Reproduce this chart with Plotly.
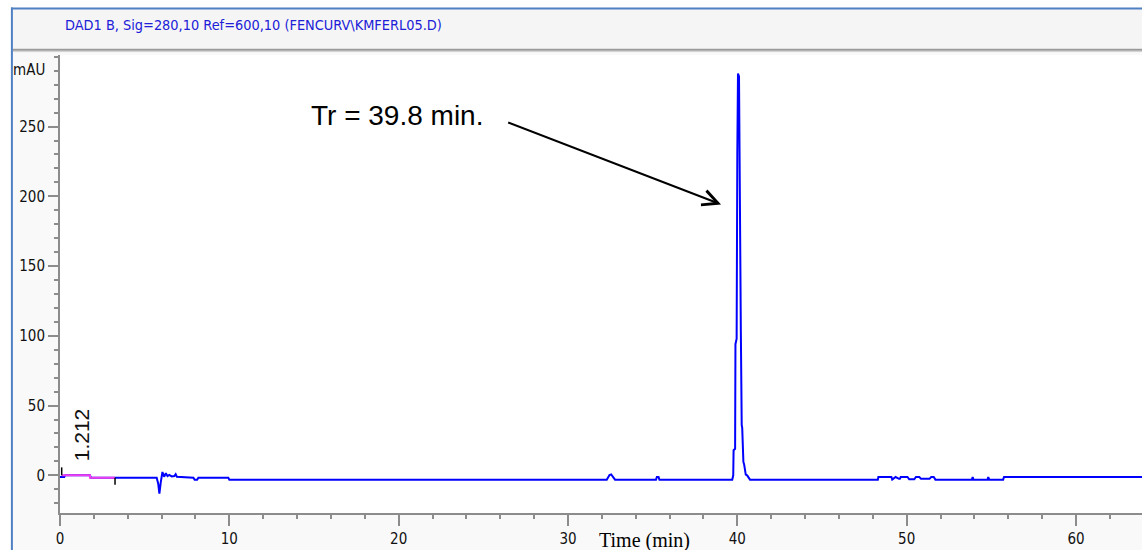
import plotly.graph_objects as go

# DAD1 B chromatogram, signal 280 nm
time_min = [0.0, 0.25, 0.30, 1.77, 1.82, 5.71, 5.80, 5.87, 5.95, 6.05, 6.15, 6.25, 6.35,
            6.45, 6.60, 6.75, 6.83, 6.90, 7.88, 7.95, 8.10, 8.17, 9.94, 10.00,
            32.29, 32.45, 32.55, 32.70, 32.78, 35.20, 35.25, 35.35, 35.40,
            39.70, 39.76, 39.78, 39.87, 39.89, 39.96, 40.00, 40.04, 40.10, 40.13,
            40.18, 40.21, 40.26, 40.29, 40.36, 40.40, 40.50, 40.58, 40.75,
            48.30, 48.33, 49.10, 49.15, 49.30, 49.35, 49.55, 49.60, 49.65, 50.05,
            50.15, 50.45, 50.55, 50.75, 50.85, 51.35, 51.45, 51.60, 51.70,
            53.85, 53.90, 53.95, 54.78, 54.82, 54.88, 55.70, 55.75, 63.90]
signal_mau = [-1.2, -1.2, 0.0, 0.0, -1.7, -1.7, -6.0, -13.1, -5.0, 2.4, -1.0, 1.5, -0.5,
              0.3, -0.8, -0.5, 0.8, -1.0, -1.7, -3.1, -3.1, -1.7, -1.7, -3.1,
              -3.1, 0.2, 0.7, -2.0, -3.1, -3.1, -1.2, -1.2, -3.1,
              -3.1, 0.0, 18.0, 19.0, 94.0, 98.0, 230.0, 288.0, 286.0, 214.0,
              106.0, 102.0, 36.0, 34.0, 9.6, 8.0, 0.5, 0.0, -3.1,
              -3.1, -1.2, -1.2, -3.1, -1.2, -1.2, -2.5, -2.5, -1.2, -1.2,
              -2.8, -2.8, -1.2, -1.2, -2.5, -2.5, -1.2, -1.2, -3.1,
              -3.1, -1.2, -3.1, -3.1, -1.2, -3.1, -3.1, -1.2, -1.2]

# integration baseline of the early peak
baseline_time = [0.10, 1.77, 1.77, 3.25]
baseline_mau = [0.0, 0.0, -1.7, -1.7]

# integration start/end markers
marker_time = [0.10, 0.10, None, 3.25, 3.25]
marker_mau = [0.0, 5.7, None, -1.7, -6.7]

peak_label = "1.212"
peak_label_time = 1.24
peak_label_mau = 28.7

x_ticks = [0, 10, 20, 30, 40, 50, 60]
y_ticks = [0, 50, 100, 150, 200, 250]

narrow = "Liberation Sans Narrow, Arial Narrow, DejaVu Sans Condensed, Liberation Sans, Arial"
axis_grey = "#8c8c8c"

fig = go.Figure()
fig.add_trace(go.Scatter(x=time_min, y=signal_mau, mode="lines",
                         line=dict(color="#0000ff", width=2)))
fig.add_trace(go.Scatter(x=baseline_time, y=baseline_mau, mode="lines",
                         line=dict(color="#f23cf0", width=2), hoverinfo="skip"))
fig.add_trace(go.Scatter(x=marker_time, y=marker_mau, mode="lines",
                         line=dict(color="#000000", width=1.5), hoverinfo="skip"))

# pixel -> paper helpers for the window frame drawn in the margins
W, H = 1142, 550
ML, MR, MT, MB = 60, 0, 55, 37
PW, PH = W - ML - MR, H - MT - MB


def px(xp):
    return (xp - ML) / PW


def py(yp):
    return (H - MB - yp) / PH


shapes = [
    # header strip
    dict(type="rect", xref="paper", yref="paper", x0=px(12.5), x1=px(W + 2),
         y0=py(48.5), y1=py(9.3), fillcolor="#f5f5f5", line=dict(width=0), layer="below"),
    dict(type="line", xref="paper", yref="paper", x0=px(12.5), x1=px(W + 2),
         y0=py(49.8), y1=py(49.8), line=dict(color="#9a9a9a", width=2)),
    dict(type="line", xref="paper", yref="paper", x0=px(12.5), x1=px(W + 2),
         y0=py(51.6), y1=py(51.6), line=dict(color="#d0d0d0", width=1)),
    # white outer surround
    dict(type="rect", xref="paper", yref="paper", x0=px(-2), x1=px(11),
         y0=py(H + 2), y1=py(-2), fillcolor="#ffffff", line=dict(width=0)),
    dict(type="rect", xref="paper", yref="paper", x0=px(-2), x1=px(W + 2),
         y0=py(7.6), y1=py(-2), fillcolor="#ffffff", line=dict(width=0)),
    # blue window border
    dict(type="line", xref="paper", yref="paper", x0=px(11), x1=px(W + 2),
         y0=py(8.6), y1=py(8.6), line=dict(color="#4f80c4", width=2)),
    dict(type="line", xref="paper", yref="paper", x0=px(11.9), x1=px(11.9),
         y0=py(H + 2), y1=py(7.6), line=dict(color="#4f80c4", width=2)),
]

annotations = [
    dict(xref="paper", yref="paper", x=px(63), y=py(25), xanchor="left", yanchor="middle",
         text="DAD1 B, Sig=280,10 Ref=600,10 (FENCURV\\KMFERL05.D)", showarrow=False,
         font=dict(family=narrow, size=14.4, color="#2020d8")),
    dict(xref="paper", yref="paper", x=px(47), y=py(70), xanchor="right", yanchor="middle",
         text="mAU", showarrow=False, font=dict(family=narrow, size=15, color="#111111")),
    dict(xref="x", yref="paper", x=34.52, y=py(540), xanchor="center", yanchor="middle",
         text="Time (min)", showarrow=False,
         font=dict(family="Liberation Serif, Times New Roman, serif", size=20, color="#000000")),
    dict(xref="x", yref="y", x=peak_label_time, y=peak_label_mau, text=peak_label,
         textangle=-90, showarrow=False, xanchor="center", yanchor="middle",
         font=dict(family="Liberation Sans, Arial", size=21, color="#111111")),
    dict(xref="x", yref="y", x=19.93, y=258, text="Tr = 39.8 min.", showarrow=False,
         xanchor="center", yanchor="middle",
         font=dict(family="Liberation Sans, Arial", size=28, color="#000000")),
    dict(xref="x", yref="y", x=39.04, y=194.2, ax=26.38, ay=253.3, axref="x", ayref="y",
         text="", showarrow=True, arrowhead=5, arrowsize=1.5, arrowwidth=2,
         arrowcolor="#000000"),
]

fig.update_layout(
    width=W, height=H,
    margin=dict(l=ML, r=MR, t=MT, b=MB, pad=0),
    paper_bgcolor="#f9f9f9",
    plot_bgcolor="#ffffff",
    showlegend=False,
    shapes=shapes,
    annotations=annotations,
    xaxis=dict(range=[0, 63.9], tickvals=x_ticks, ticktext=[str(v) for v in x_ticks],
               showline=True, linecolor=axis_grey, linewidth=2,
               ticks="outside", ticklen=11, tickwidth=1.5, tickcolor=axis_grey,
               minor=dict(dtick=2, tick0=0, ticks="outside", ticklen=4, tickwidth=1.5,
                          tickcolor=axis_grey, showgrid=False),
               showgrid=False, zeroline=False,
               tickfont=dict(family=narrow, size=15, color="#111111")),
    yaxis=dict(range=[-27, 301.3], tickvals=y_ticks, ticktext=[str(v) for v in y_ticks],
               showline=True, linecolor=axis_grey, linewidth=2,
               ticks="outside", ticklen=10, tickwidth=1.5, tickcolor=axis_grey,
               minor=dict(dtick=10, tick0=0, ticks="outside", ticklen=4, tickwidth=1.5,
                          tickcolor=axis_grey, showgrid=False),
               showgrid=False, zeroline=False,
               tickfont=dict(family=narrow, size=15, color="#111111")),
)

fig.write_html("out.html")
